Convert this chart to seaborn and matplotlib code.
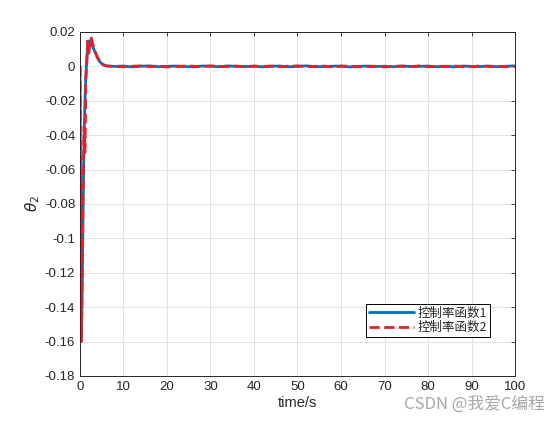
import numpy as np
import pandas as pd
import seaborn as sns
import matplotlib.pyplot as plt

# transient part
t_head = [0, 0.15, 0.35, 0.55, 0.75, 0.95, 1.15, 1.35, 1.55, 1.75, 2.0, 2.3, 2.6,
          3.0, 3.5, 4.0, 4.5, 5.0, 5.5, 6.0, 7.0, 8.0]
blue_head = [0, -0.09, -0.158, -0.12, -0.075, -0.04, -0.02, -0.005, 0.003, 0.012,
             0.0145, 0.015, 0.0135, 0.011, 0.008, 0.005, 0.003, 0.0015, 0.0008,
             0.0003, 0.0001, 0.0]
red_head = [0, -0.1, -0.16, -0.11, -0.06, -0.035, -0.05, -0.008, 0.002, 0.0155,
            0.006, 0.014, 0.0165, 0.0125, 0.0085, 0.0055, 0.0032, 0.0016, 0.0008,
            0.0003, 0.0001, 0.0]

# steady-state jitter, every 2 s from 10 to 100
t_tail = list(range(10, 101, 2))
blue_tail = [0.0002, -0.0003, 0.0001, 0.0003, -0.0002, 0.0, 0.0002, -0.0001, -0.0003, 0.0002,
             0.0001, -0.0002, 0.0003, 0.0, -0.0001, 0.0002, -0.0003, 0.0001, 0.0002, -0.0002,
             0.0, 0.0003, -0.0001, -0.0002, 0.0001, 0.0002, -0.0003, 0.0, 0.0002, -0.0001,
             0.0001, -0.0002, 0.0003, -0.0001, 0.0, 0.0002, -0.0002, 0.0001, -0.0003, 0.0002,
             0.0, -0.0001, 0.0002, -0.0002, 0.0001, 0.0003]
red_tail = [-0.0002, 0.0001, 0.0003, -0.0001, 0.0002, -0.0003, 0.0, 0.0002, 0.0001, -0.0002,
            0.0003, 0.0, -0.0001, 0.0002, -0.0003, 0.0001, 0.0, 0.0002, -0.0002, 0.0001,
            0.0003, -0.0001, 0.0, 0.0002, -0.0003, 0.0001, 0.0002, -0.0002, 0.0, 0.0001,
            -0.0003, 0.0002, 0.0, -0.0001, 0.0003, -0.0002, 0.0001, 0.0, 0.0002, -0.0001,
            -0.0002, 0.0003, 0.0, 0.0001, -0.0002, 0.0]

labels = ['控制率函数1', '控制率函数2']

df1 = pd.DataFrame({'t': t_head + t_tail, 'theta': blue_head + blue_tail})
df2 = pd.DataFrame({'t': t_head + t_tail, 'theta': red_head + red_tail})

sns.set_style('white')
plt.rcParams['font.family'] = ['Liberation Sans', 'DejaVu Sans']

fig = plt.figure(figsize=(5.59, 4.26), dpi=100)
ax = fig.add_axes([0.1431, 0.1174, 0.7782, 0.8075])

sns.lineplot(data=df1, x='t', y='theta', ax=ax, color='#0072BD', linewidth=2.0,
             label=labels[0], estimator=None, sort=False)
sns.lineplot(data=df2, x='t', y='theta', ax=ax, color='#E3212B', linewidth=2.0,
             linestyle='--', dashes=(3, 2), label=labels[1], estimator=None, sort=False)

ax.set_xlim(0, 100)
ax.set_ylim(-0.18, 0.02)
ax.set_xticks(range(0, 101, 10))
ax.set_yticks(np.round(np.arange(-0.18, 0.021, 0.02), 2))
ax.set_yticklabels(['-0.18', '-0.16', '-0.14', '-0.12', '-0.1', '-0.08', '-0.06',
                    '-0.04', '-0.02', '0', '0.02'])
ax.grid(True, color='#DDDDDD', linewidth=0.6)
ax.tick_params(direction='in', length=3, labelsize=9.5, top=True, right=True,
               width=0.6, color='#262626', labelcolor='#262626')
for s in ax.spines.values():
    s.set_color('#262626')
    s.set_linewidth(0.7)

ax.set_xlabel('time/s', fontsize=10.5, color='#262626', labelpad=2)
ax.set_ylabel(r'$\theta_2$', fontsize=11, color='#262626', labelpad=2)

leg = ax.legend(loc='lower right', bbox_to_anchor=(0.943, 0.113),
                prop={'family': ['Noto Sans CJK SC', 'DejaVu Sans'], 'size': 9},
                frameon=True, fancybox=False, edgecolor='black', framealpha=1,
                handlelength=3.6, borderpad=0.25, labelspacing=0.1, handletextpad=0.3,
                borderaxespad=0)
leg.get_frame().set_linewidth(0.7)

fig.text(0.975, 0.03, 'CSDN @我爱C编程', ha='right', va='bottom', fontsize=12,
         color='#A8A8A8', family=['Noto Sans CJK SC', 'DejaVu Sans'])

fig.savefig('out.png', dpi=100)
